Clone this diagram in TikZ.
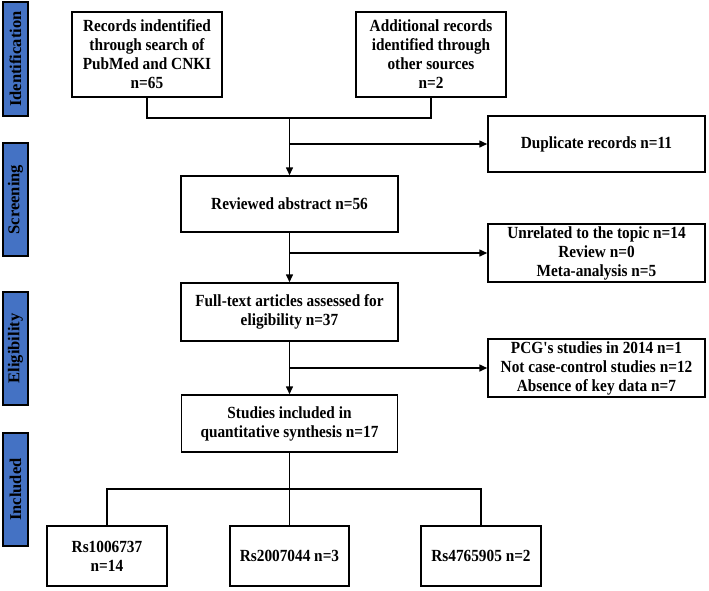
\documentclass[tikz,border=0pt]{standalone}
\usepackage{fontspec}
\setmainfont{Liberation Serif}
\newfontfamily\boxfont{Liberation Serif}[FakeStretch=0.9]
\usetikzlibrary{arrows.meta}
\definecolor{barblue}{RGB}{68,114,196}
\begin{document}
\begin{tikzpicture}[x=1pt,y=-1pt,
  box/.style={draw=black,line width=1.5pt,fill=white,inner sep=0pt,align=center,
    font=\boxfont\fontsize{17}{19}\selectfont\bfseries},
  bar/.style={draw=black,line width=1.5pt,fill=barblue,inner sep=0pt,minimum width=25pt},
  bartext/.style={rotate=90,font=\fontsize{16.5}{19}\selectfont\bfseries},
  conn/.style={line width=1.5pt,draw=black},
  arr/.style={conn,-{Triangle[length=8pt,width=7pt]}}]
\useasboundingbox (0,0) rectangle (709,590);
% phase bars
\node[bar,minimum height=114pt] (bid) at (15.5,59) {};
\node[bartext] (tid) at (bid.center) {Identification};
\node[bar,minimum height=113pt] (bsc) at (15.5,199.5) {};
\node[bartext] (tsc) at (bsc.center) {Screening};
\node[bar,minimum height=113pt] (bel) at (15.5,348.5) {};
\node[bartext] (tel) at (bel.center) {Eligibility};
\node[bar,minimum height=113pt] (bin) at (15.5,489.5) {};
\node[bartext] (tin) at (bin.center) {Included};
% boxes
\node[box,minimum width=150pt,minimum height=85pt] (rec) at (147,54.5) {Records indentified\\through search of\\PubMed and CNKI\\n=65};
\node[box,minimum width=150pt,minimum height=85pt] (add) at (431,54.5) {Additional records\\identified through\\other sources\\n=2};
\node[box,minimum width=217pt,minimum height=56pt] (dup) at (596.5,144) {Duplicate records n=11};
\node[box,minimum width=217pt,minimum height=56pt] (rev) at (289.5,204) {Reviewed abstract n=56};
\node[box,minimum width=217pt,minimum height=58pt] (unr) at (596.5,253) {Unrelated to the topic n=14\\Review n=0\\Meta-analysis n=5};
\node[box,minimum width=217pt,minimum height=58pt] (ful) at (289.5,312) {Full-text articles assessed for\\eligibility n=37};
\node[box,minimum width=217pt,minimum height=58pt] (pcg) at (596.5,368) {PCG's studies in 2014 n=1\\Not case-control studies n=12\\Absence of key data n=7};
\node[box,minimum width=216pt,minimum height=57pt] (stu) at (289.5,423.5) {Studies included in\\quantitative synthesis n=17};
\node[box,minimum width=120pt,minimum height=60pt] (rs1) at (107,556) {Rs1006737\\n=14};
\node[box,minimum width=119pt,minimum height=60pt] (rs2) at (289.5,556) {Rs2007044 n=3};
\node[box,minimum width=120pt,minimum height=60pt] (rs3) at (481,556) {Rs4765905 n=2};
% junction coordinates
\coordinate (j1) at (289.5,118);
\coordinate (b1) at (289.5,144);
\coordinate (b2) at (289.5,253);
\coordinate (b3) at (289.5,368);
\coordinate (j2) at (289.5,489);
% connectors
\draw[conn] (rec.south) |- (j1) -| (add.south);
\draw[arr] (j1) -- (rev.north);
\draw[arr] (b1) -- (dup.west);
\draw[arr] (rev.south) -- (ful.north);
\draw[arr] (b2) -- (unr.west);
\draw[arr] (ful.south) -- (stu.north);
\draw[arr] (b3) -- (pcg.west);
\draw[conn] (stu.south) -- (j2);
\draw[conn] (rs1.north) |- (j2) -| (rs3.north);
\draw[conn] (j2) -- (rs2.north);
\end{tikzpicture}
\end{document}
